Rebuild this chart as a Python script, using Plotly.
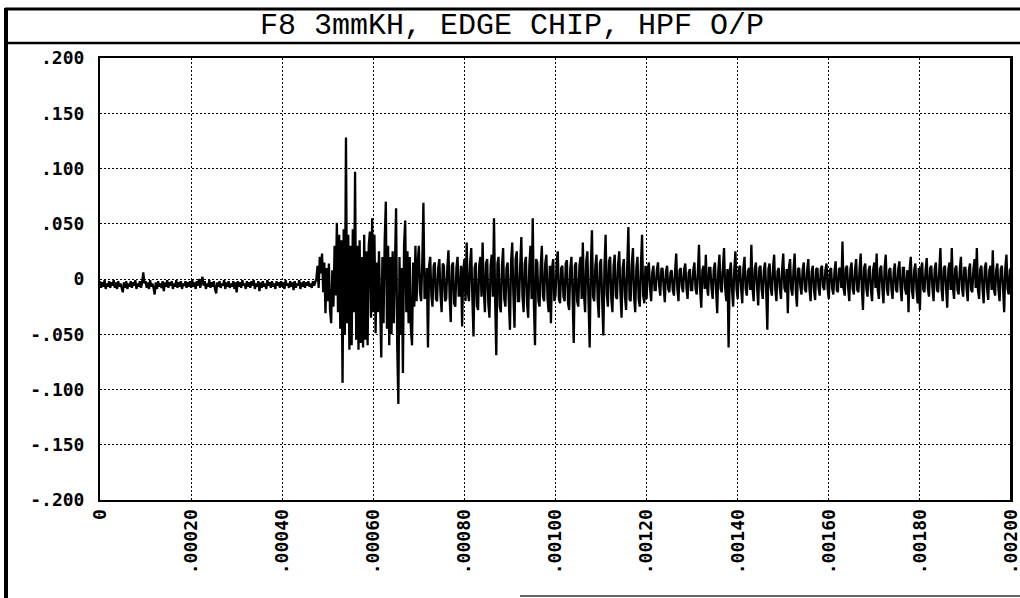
import numpy as np
import plotly.graph_objects as go

# ---- data (signal amplitude in thousandths, one sample every 2.5 microseconds) ----
SAMPLE_INTERVAL = 2.5e-6

# 0 .. 0.000475 s : quiet pre-trigger noise
pre_trigger = [
    -2, -8, -3, -7, -1, -9, -4, -7, -2, -8, -3, -6, -1, -8, -3, -9, -2, -7, -4, -8,
    -12, -3, -8, -2, -9, -4, -7, -2, -8, -3, -6, -1, -9, -4, -7, -2, -8, -3, 6, -4,
    -2, -8, -3, -9, -1, -7, -4, -8, -14, -3, -9, -2, -7, -4, -8, -2, -11, -3, -7, -1,
    -8, -3, -6, -2, -9, -4, -7, -1, -8, -3, -7, -2, -9, -4, -6, -2, -8, -3, -7, -2,
    -8, -1, -7, -3, -9, -2, -6, 0, -8, -3, 2, -6, -2, -9, -4, -7, -1, -8, -3, -7,
    -2, -9, -13, -3, -7, -2, -8, -4, -6, -1, -9, -3, -7, -2, -8, -4, -7, -2, -9, -3,
    -12, -2, -7, -3, -8, -1, -6, -4, -9, -2, -7, -3, -8, -2, -6, -1, -9, -4, -7, -2,
    -11, -3, -8, -2, -7, -4, -9, -1, -6, -3, -8, -2, -7, -4, -9, -2, -6, -3, -8, -2,
    -7, -3, -9, -1, -6, -4, -8, -2, -7, -3, -10, -2, -8, -4, -6, -1, -9, -3, -7, -2,
    -8, -3, -6, -2, -7, -4, -8, -2, -6, -3,
]

# 0.000475 .. 0.0007 s : edge-chip burst
burst = [
    0, 12, -8, 20, 5, 23, -12, 15, -31, 10,
    -20, 14, -28, -40, 8, -25, 30, -15, 51, -30,
    40, -45, 35, -94, 45, -50, 128, -40, 40, -64,
    30, -60, 45, -30, 97, -55, 30, -64, 35, -58,
    20, -62, 40, -55, 25, -60, 30, 43, -35, 55,
    -30, 40, -49, 15, -30, 25, -45, -71, 20, -40,
    35, 70, -45, 30, -60, 20, -50, 25, -40, 30,
    64, -60, -113, 20, -50, 10, -85, 30, 53, -30,
    25, -40, 20, -45, -60, 15, -25, 30, -20, 14,
]

# 0.0007 .. 0.0012 s : decaying activity
middle = [
    30, -12, -20, 15, 69, -18, -15, 10, -62, 12, 20, -15, -25, 12, 15, -18, -20, 10, 18, -14,
    -30, 14, 12, -20, -18, 10, 26, -16, -39, 12, 15, -22, -25, 10, 20, -15, -15, 12, -43, 8,
    18, -20, 33, -12, -20, 14, 28, -18, -52, 10, 15, -24, -28, 12, 20, -16, 33, -10, -30, 14,
    18, -22, -35, 12, 22, -16, 55, -20, -69, 14, 20, -25, -30, 12, 28, -18, -25, 10, 15, -20,
    -46, 16, 33, -14, -44, 18, 25, -20, -20, 12, 38, -16, -30, 14, 20, -22, -35, 12, 30, -18,
    55, -22, -60, 18, 15, -20, -25, 12, 30, -16, -20, 14, 22, -18, -30, 12, -40, 10, 18, -20,
    -15, 14, 25, -18, -22, 10, 12, -16, -20, 14, 17, -22, -28, 10, 20, -15, -58, 12, 15, -20,
    -25, 12, 20, -18, 33, -14, -30, 16, 25, -20, -62, 10, 44, -16, -20, 12, 22, -18, -35, 14,
    18, -20, -51, 12, 40, -14, -25, 16, 20, -18, -30, 12, 22, -16, -18, 14, 25, -12, -35, 10,
    18, -16, -28, 12, 47, -18, -20, 14, 28, -16, -30, 10, 20, -18, -25, 12, 40, -15, -22, 12,
]

# 0.0012 .. 0.002 s : steady background
tail = [
    -18, 8, 15, -8, -20, 6, 12, -10, -10, 8, 15, -6, -15, 9, 10, -8, -21, 7, 12, -9,
    -12, 6, 8, -10, -15, 7, 23, -9, -20, 8, 10, -7, -12, 9, 14, -8, -18, 6, 9, -10,
    -10, 8, 15, -9, -14, 6, 31, -10, -26, 8, 12, -9, 22, -7, -15, 10, 10, -8, -18, 9,
    15, -10, -31, 8, 22, -9, -12, 10, 28, -8, -20, 9, -62, 7, 15, -10, -25, 8, 25, -9,
    -18, 9, 12, -8, -22, 10, 20, -9, -15, 7, 10, -10, 31, -8, -20, 9, 15, -7, -24, 10,
    12, -9, -18, 8, 15, -10, -46, 9, 14, -8, -15, 10, 22, -9, -20, 7, 10, -8, -18, 9,
    23, -8, -12, 9, -31, 10, 18, -9, -15, 8, 23, -10, -25, 9, 10, -7, -14, 8, 15, -9,
    -12, 8, 18, -9, -20, 7, 12, -10, -19, 9, 10, -8, -15, 9, 12, -7, -10, 8, 14, -9,
    -18, 8, 10, -9, -14, 7, 16, -10, -12, 9, 10, -8, 34, -9, -15, 10, 12, -8, -20, 9,
    15, -9, -14, 8, 18, -10, -12, 9, 23, -8, -28, 10, 14, -9, -16, 8, 12, -10, -20, 9,
    15, -8, 23, -10, -18, 9, 12, -8, -22, 10, 22, -9, -15, 8, 10, -9, -18, 7, 14, -10,
    -12, 9, 16, -8, -20, 10, 10, -9, -14, 8, -30, 9, 20, -10, -18, 8, 14, -9, -22, 10,
    -28, 9, 15, -10, -12, 8, 19, -9, -16, 10, 12, -8, -20, 9, 15, -10, -12, 8, 28, -9,
    -20, 10, 12, -8, -26, 9, 15, -10, 28, -8, -18, 9, 12, -10, -14, 8, 20, -9, -16, 10,
    10, -9, -20, 8, 14, -10, -12, 9, 18, -8, 28, -10, -18, 9, 12, -8, -22, 10, 15, -9,
    -19, 8, 12, -10, 26, -9, -15, 8, 14, -10, -20, 9, 12, -8, -30, 10, 22, -9, -14, 8,
    10,
]

y_tick_values = [-0.200, -0.150, -0.100, -0.050, 0.0, 0.050, 0.100, 0.150, 0.200]
y_tick_labels = ["-.200", "-.150", "-.100", "-.050", "0", ".050", ".100", ".150", ".200"]
x_tick_values = [0.0, 0.0002, 0.0004, 0.0006, 0.0008, 0.0010, 0.0012, 0.0014, 0.0016, 0.0018, 0.0020]
x_tick_labels = ["0", ".00020", ".00040", ".00060", ".00080", ".00100",
                 ".00120", ".00140", ".00160", ".00180", ".00200"]
title_text = "F8 3mmKH, EDGE CHIP, HPF O/P"

# ---- build trace ----
signal = np.array(pre_trigger + burst + middle + tail, dtype=float) / 1000.0
time = np.arange(len(signal)) * SAMPLE_INTERVAL

W, H = 1020, 598
L, R, T, B = 100, 9, 58, 98
pw, ph = W - L - R, H - T - B


def px(xp):
    return (xp - L) / pw


def py(yp):
    return (H - B - yp) / ph


fig = go.Figure()
fig.add_trace(go.Scatter(x=time, y=signal, mode="lines",
                         line=dict(color="black", width=2.3),
                         hoverinfo="skip", showlegend=False, cliponaxis=False))

mono = "DejaVu Sans Mono"
axis_common = dict(showline=True, linecolor="black", linewidth=2, mirror=True,
                   showgrid=True, gridcolor="black", gridwidth=1.2, griddash="2px,2px",
                   zeroline=False, ticks="", tickmode="array", automargin=False,
                   ticklabeloverflow="allow",
                   tickfont=dict(family=mono, size=18, color="black", weight="bold"))

fig.update_xaxes(range=[0, 0.002], tickvals=x_tick_values, ticktext=x_tick_labels,
                 tickangle=-90, ticklabelstandoff=0, **axis_common)
fig.update_yaxes(range=[-0.2, 0.2], tickvals=y_tick_values, ticktext=y_tick_labels,
                 ticklabelstandoff=10, **axis_common)

shapes = [
    # title bar top and bottom
    dict(type="line", xref="paper", yref="paper", x0=px(5), x1=px(1020), y0=py(9), y1=py(9),
         line=dict(color="black", width=3)),
    dict(type="line", xref="paper", yref="paper", x0=px(5), x1=px(1020), y0=py(43), y1=py(43),
         line=dict(color="black", width=2.5)),
    # left frame edge
    dict(type="line", xref="paper", yref="paper", x0=px(6), x1=px(6), y0=py(8), y1=py(598),
         line=dict(color="black", width=4)),
    # right edge of the plotting frame
    dict(type="line", xref="paper", yref="paper", x0=1, x1=1, y0=0, y1=1,
         line=dict(color="black", width=2)),
    # bottom edge fragment
    dict(type="line", xref="paper", yref="paper", x0=px(520), x1=px(1020), y0=py(596), y1=py(596),
         line=dict(color="#666666", width=2)),
]

fig.update_layout(
    width=W, height=H, autosize=False,
    margin=dict(l=L, r=R, t=T, b=B, autoexpand=False),
    paper_bgcolor="white", plot_bgcolor="white",
    shapes=shapes,
    annotations=[dict(text=title_text, xref="paper", yref="paper",
                      x=px(512), y=py(26), xanchor="center", yanchor="middle",
                      showarrow=False,
                      font=dict(family="Liberation Mono", size=30, color="black"))],
)

fig.write_html("out.html",
               config={"displayModeBar": False, "responsive": False},
               post_script="document.body.style.margin='0px';document.body.style.overflow='hidden';")
